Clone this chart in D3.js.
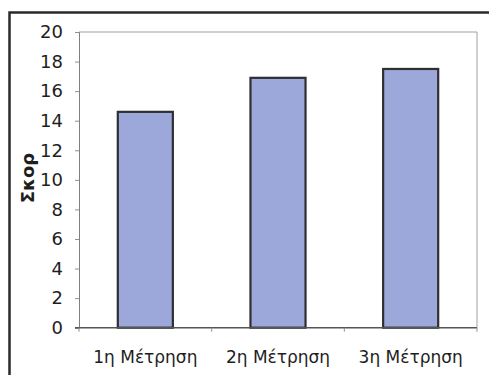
<!DOCTYPE html>
<html>
<head>
<meta charset="utf-8">
<script src="https://cdn.jsdelivr.net/npm/d3@7"></script>
<style>
  html, body { margin: 0; padding: 0; background: #fff; }
  svg { display: block; }
</style>
</head>
<body>
<svg id="chart" width="489" height="375"></svg>
<script>
// Scores per measurement
const categories = ["1η Μέτρηση", "2η Μέτρηση", "3η Μέτρηση"];
const scores = [14.6, 16.9, 17.5];
const yTicks = [0, 2, 4, 6, 8, 10, 12, 14, 16, 18, 20];
const yLabel = "Σκορ";

const svg = d3.select("#chart");
const W = 489, H = 375;
const plot = { left: 79, right: 477, top: 32, bottom: 327.7 };
const font = "DejaVu Sans, sans-serif";

// Outer frame (left and top edges)
svg.append("path")
  .attr("d", `M9.5,${H} V12.5 H${W}`)
  .attr("fill", "none")
  .attr("stroke", "#2a2a2a")
  .attr("stroke-width", 2.5);

const x = d3.scaleBand()
  .domain(categories)
  .range([plot.left, plot.right])
  .paddingInner(0.585)
  .paddingOuter(0.2925);

const y = d3.scaleLinear()
  .domain([0, 20])
  .range([plot.bottom, plot.top]);

// Plot area border (top and right)
svg.append("path")
  .attr("d", `M${plot.left},${plot.top} H${plot.right} V${plot.bottom}`)
  .attr("fill", "none")
  .attr("stroke", "#a0a0a0")
  .attr("stroke-width", 1);

// Bars
svg.append("g")
  .selectAll("rect")
  .data(scores)
  .join("rect")
  .attr("x", (d, i) => x(categories[i]))
  .attr("y", d => y(d))
  .attr("width", x.bandwidth())
  .attr("height", d => y(0) - y(d))
  .attr("fill", "#9ba8d9")
  .attr("stroke", "#2e2e33")
  .attr("stroke-width", 2.2);

// Y axis
const yAxis = svg.append("g")
  .attr("transform", `translate(${plot.left},0)`)
  .call(d3.axisLeft(y).tickValues(yTicks).tickSize(4).tickPadding(12));
yAxis.select(".domain").attr("stroke", "#808080");
yAxis.selectAll(".tick line").attr("stroke", "#909090");
yAxis.selectAll(".tick text")
  .attr("fill", "#1e1e1e")
  .style("font-family", font)
  .style("font-size", "18px");

// X axis: ticks sit on category boundaries
const bounds = d3.range(categories.length + 1).map(i => plot.left + i * x.step());
const xAxis = svg.append("g").attr("transform", `translate(0,${plot.bottom})`);
xAxis.append("line")
  .attr("x1", plot.left - 4).attr("x2", plot.right)
  .attr("stroke", "#555").attr("stroke-width", 1.5);
xAxis.selectAll("line.tk")
  .data(bounds)
  .join("line")
  .attr("class", "tk")
  .attr("x1", d => d).attr("x2", d => d)
  .attr("y1", 0).attr("y2", 4)
  .attr("stroke", "#909090");
xAxis.selectAll("text")
  .data(categories)
  .join("text")
  .attr("x", d => x(d) + x.bandwidth() / 2)
  .attr("y", 35)
  .attr("text-anchor", "middle")
  .attr("fill", "#1e1e1e")
  .style("font-family", font)
  .style("font-size", "17px")
  .text(d => d);

// Y axis title
svg.append("text")
  .attr("transform", `translate(34,178) rotate(-90)`)
  .attr("text-anchor", "middle")
  .attr("fill", "#1e1e1e")
  .style("font-family", font)
  .style("font-size", "18px")
  .style("font-weight", "bold")
  .text(yLabel);
</script>
</body>
</html>
